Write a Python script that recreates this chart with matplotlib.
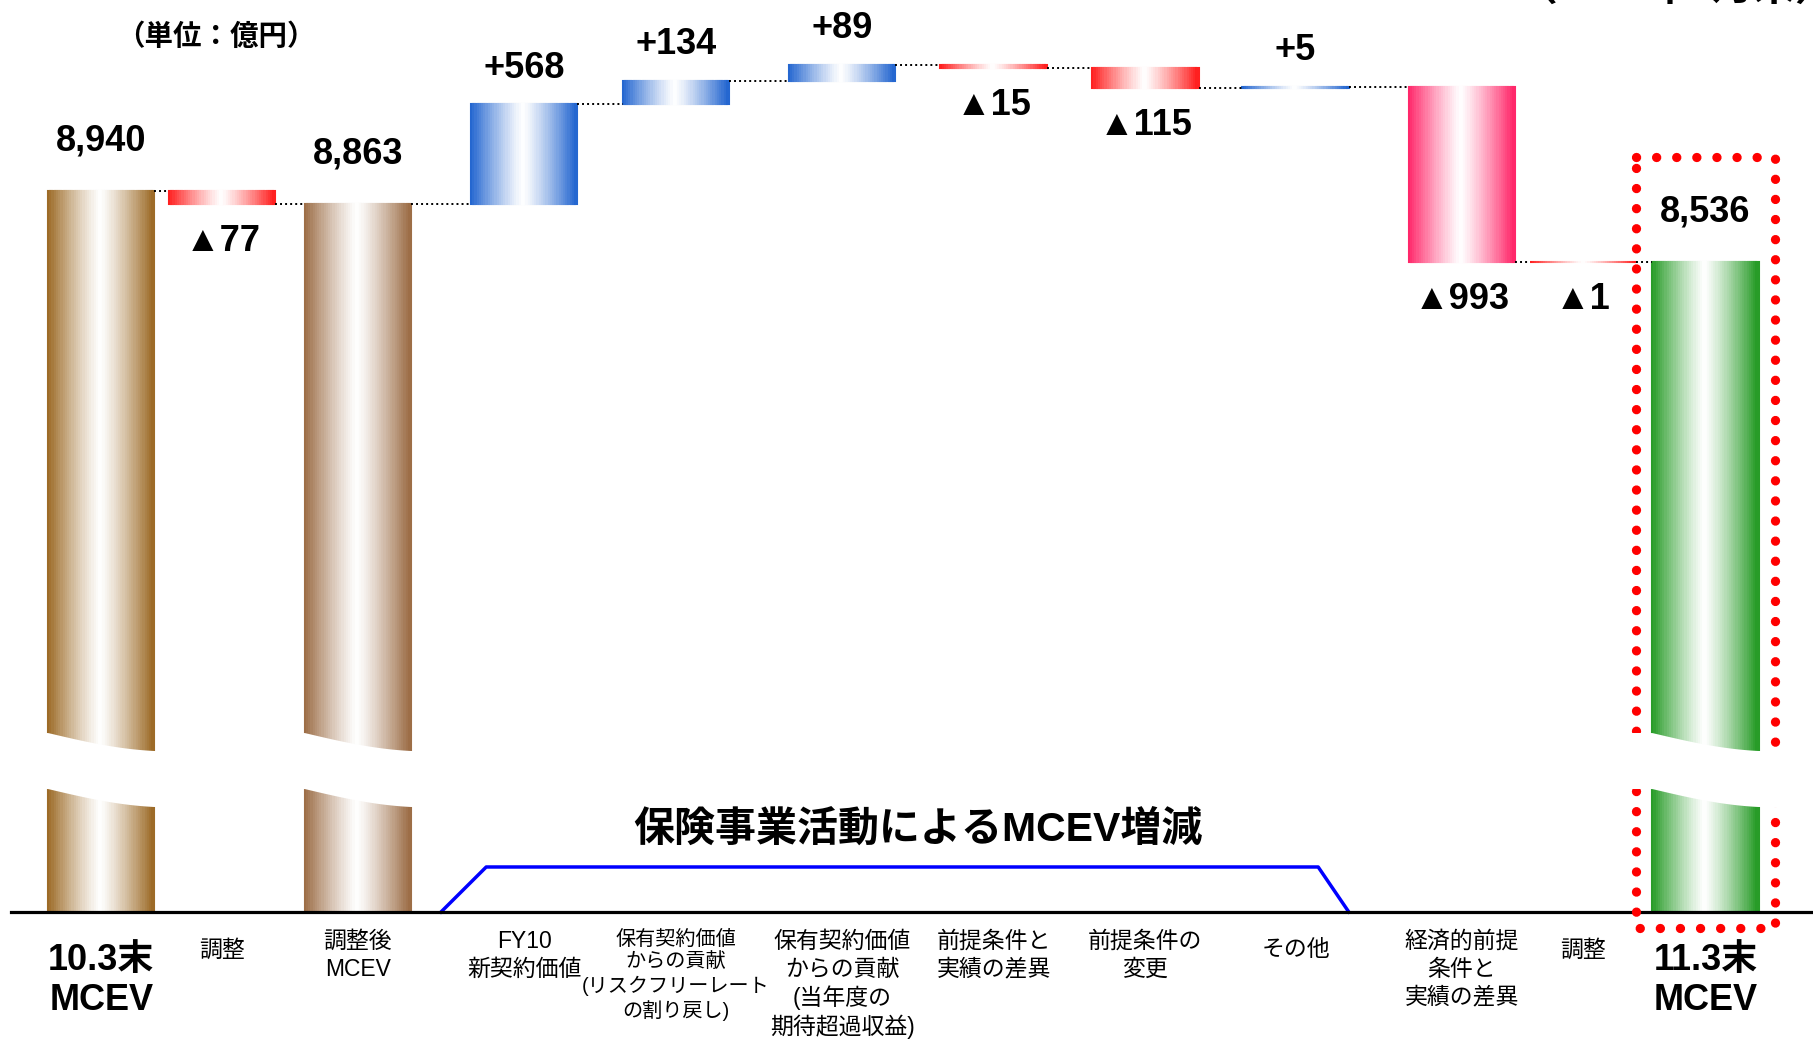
import numpy as np
import matplotlib
matplotlib.use('Agg')
import matplotlib.pyplot as plt
from matplotlib.colors import to_rgb
from matplotlib.lines import Line2D
from matplotlib.patches import Polygon
from matplotlib.transforms import blended_transform_factory, ScaledTranslation

plt.rcParams['font.family'] = ['Liberation Sans', 'Noto Sans CJK JP']

# MCEV movement, 10.3末 -> 11.3末 (単位:億円)
categories = ['10.3末\nMCEV', '調整', '調整後\nMCEV', 'FY10\n新契約価値',
              '保有契約価値\nからの貢献\n(リスクフリーレート\nの割り戻し)',
              '保有契約価値\nからの貢献\n(当年度の\n期待超過収益)',
              '前提条件と\n実績の差異', '前提条件の\n変更', 'その他',
              '経済的前提\n条件と\n実績の差異', '調整', '11.3末\nMCEV']
values = [8940, -77, 8863, 568, 134, 89, -15, -115, 5, -993, -1, 8536]
is_total = [True, False, True, False, False, False,
            False, False, False, False, False, True]

# slot positions along the x axis and bar colours
x_pos = [0, 0.83, 1.76, 2.9, 3.94, 5.08, 6.12, 7.16, 8.19, 9.33, 10.16, 11.0]
bar_w = 0.73
BLUE, RED = '#1F63CF', '#FF1A1A'
bar_colors = ['#9A6722', RED, '#9A6A42', BLUE, BLUE, BLUE,
              RED, RED, BLUE, '#FF2266', RED, '#229922']

# floating bar extents
bottoms, tops, levels = [], [], []
running = 0
for v, tot in zip(values, is_total):
    if tot:
        lo, hi = 0, v
        running = v
    else:
        lo, hi = sorted((running, running + v))
        running += v
    bottoms.append(lo)
    tops.append(hi)
    levels.append(running)

W, H = 1813, 1041
fig = plt.figure(figsize=(W / 100, H / 100), dpi=100)


def fy(px):
    return 1 - np.asarray(px) / H


split_px, base_px = 770, 912
ax_top = fig.add_axes([0, fy(split_px), 1, split_px / H])
ax_bot = fig.add_axes([0, fy(base_px), 1, (base_px - split_px) / H])
ax_top.set_ylim(5653, 10023)
ax_bot.set_ylim(0, 806)
for ax in (ax_top, ax_bot):
    ax.set_xlim(-0.694, 11.738)
ax_top.axis('off')


def gradient_bar(ax, x, lo, hi, color, n=48):
    # colour at both edges, fading to white in the middle
    edges = np.linspace(x - bar_w / 2, x + bar_w / 2, n + 1)
    mids = (edges[:-1] + edges[1:]) / 2
    t = np.abs(2 * (mids - edges[0]) / bar_w - 1) ** 1.2
    base = np.array(to_rgb(color))
    cols = 1 - t[:, None] * (1 - base)
    ax.bar(mids, hi - lo, width=bar_w / n, bottom=lo, color=cols,
           edgecolor=cols, linewidth=1.5)


for i in range(len(values)):
    for ax in (ax_top, ax_bot):
        gradient_bar(ax, x_pos[i], bottoms[i], tops[i], bar_colors[i])

# dotted connectors between consecutive bars
for i in range(len(values) - 1):
    ax_top.plot([x_pos[i] + bar_w / 2, x_pos[i + 1] - bar_w / 2],
                [levels[i], levels[i]], color='black', lw=1.4,
                ls=(0, (1, 1.6)))

# value labels
for i, v in enumerate(values):
    if is_total[i]:
        text, y, off = f'{v:,}', tops[i], 36
    elif v > 0:
        text, y, off = f'+{v}', tops[i], 26
    else:
        text, y, off = f'▲{-v}', bottoms[i], -27
    ax_top.annotate(text, (x_pos[i], y), xytext=(0, off),
                    textcoords='offset points', ha='center', va='center',
                    fontsize=26, fontweight='bold')

# baseline and category labels
ax_bot.axhline(0, xmin=0.006, color='black', lw=2.3, clip_on=False, zorder=3)
for sp in ax_bot.spines.values():
    sp.set_visible(False)
ax_bot.set_yticks([])
ax_bot.set_xticks(x_pos, categories)
ax_bot.tick_params(axis='x', length=0, pad=13, labelsize=16.5)
for i, lab in enumerate(ax_bot.get_xticklabels()):
    lab.set_linespacing(1.25)
    shift = 0
    if i in (0, len(categories) - 1):
        lab.set_fontsize(26)
        lab.set_fontweight('bold')
        lab.set_linespacing(1.2)
        shift = 9
    elif '\n' not in categories[i]:
        shift = 6
    elif len(max(categories[i].split('\n'), key=len)) > 8:
        lab.set_fontsize(14.5)
    if shift:
        lab.set_transform(lab.get_transform() +
                          ScaledTranslation(0, -shift / 72, fig.dpi_scale_trans))

# bracket over the insurance-activity items
trans = ax_bot.get_xaxis_transform()
bx0 = (x_pos[2] + x_pos[3]) / 2
bx1 = x_pos[8] + bar_w / 2
ax_bot.plot([bx0, bx0 + 0.31, bx1 - 0.21, bx1], [0, 0.317, 0.317, 0],
            transform=trans, color='#0000FF', lw=2.5, clip_on=False)
ax_bot.text(5.6, 0.585, '保険事業活動によるMCEV増減', transform=trans,
            ha='center', va='center', fontsize=29.5, fontweight='bold')

# highlight box around the closing MCEV
brk = blended_transform_factory(ax_top.transData, fig.transFigure)
box_x = [x_pos[-1] - 0.477, x_pos[-1] + 0.477]
box_y = fy([157, 157, 928, 928, 157])
fig.add_artist(Line2D([box_x[0], box_x[1], box_x[1], box_x[0], box_x[0]], box_y,
                      transform=brk, color='red', lw=6.7,
                      linestyle=(0, (0.01, 2.15)), dash_capstyle='round',
                      zorder=4))


# wavy axis break through the tall bars
def wave(t):
    t = np.clip(t, 0, 1)
    return 0.7 * np.sin(np.pi * t / 2) + 0.3 * t


for i, half in [(0, 0.39), (2, 0.39), (11, 0.56)]:
    xs = np.linspace(x_pos[i] - half, x_pos[i] + half, 80)
    t = (xs - (x_pos[i] - bar_w / 2)) / bar_w
    upper = 733 + 18 * wave(t)
    lower = 789 + 18 * wave(t)
    poly = np.column_stack([np.r_[xs, xs[::-1]],
                            fy(np.r_[upper, lower[::-1]])])
    fig.add_artist(Polygon(poly, closed=True, transform=brk,
                           facecolor='white', edgecolor='none', zorder=5))

fig.text(216 / W, fy(37), '（単位：億円）', ha='center', va='center',
         fontsize=20.5, fontweight='bold')
fig.text(1515 / W, fy(1), '（2011年3月末）', ha='left', va='baseline',
         fontsize=30, fontweight='bold')

fig.savefig('out.png', dpi=100)
